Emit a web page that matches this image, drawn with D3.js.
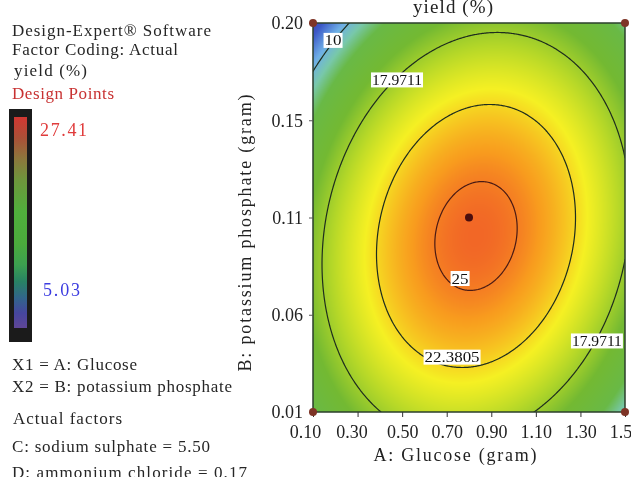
<!DOCTYPE html>
<html><head><meta charset="utf-8">
<script src="https://cdn.jsdelivr.net/npm/d3@7"></script>
<style>
body{margin:0;background:#fff;}
#wrap{position:relative;width:631px;height:477px;overflow:hidden;background:#fff;}
canvas,svg{position:absolute;left:0;top:0;}
text{font-family:"Liberation Serif","Times New Roman",serif;}
</style></head><body>
<div id="wrap"><canvas id="c" width="631" height="477"></canvas><svg id="s" width="631" height="477"></svg></div>
<script>
// ---------------- data ----------------
const xTicks = [0.10, 0.30, 0.50, 0.70, 0.90, 1.10, 1.30, 1.50];
const xTickLabels = ["0.10", "0.30", "0.50", "0.70", "0.90", "1.10", "1.30", "1.50"];
const yTicks = [0.01, 0.0575, 0.105, 0.1525, 0.20];
const yTickLabels = ["0.01", "0.06", "0.11", "0.15", "0.20"];
const contourLevels = [10, 17.9711, 22.3805, 25];
const contourLabelText = ["10", "17.9711", "22.3805", "25"];
// fitted quadratic model in actual factors: Intercept, A, B, AB, A^2, B^2
const modelTerms = ["Intercept", "A", "B", "AB", "A^2", "B^2"];
const modelCoefs = [9.661, 23.889, 123.98, 31.186, -16.166, -781.05];
const designA = [0.10, 1.50, 0.10, 1.50, 0.80];
const designB = [0.01, 0.01, 0.20, 0.20, 0.105];
const yieldRange = [5.03, 27.41];
const colorFractions = [0.00, 0.10, 0.20, 0.28, 0.36, 0.50, 0.62, 0.74, 0.86, 0.93, 1.00];
const colorValues = ["#4b2d96", "#3c5ac8", "#6eafe6", "#78c8aa", "#69b946", "#73b932",
                     "#b4d728", "#f5f023", "#f89b1e", "#f05a28", "#e1322d"];
const legendFractions = [0, 0.1, 0.2, 0.3, 0.45, 0.6, 0.7, 0.78, 0.86, 0.93, 1];
const legendColors = ["#d23732", "#aa5037", "#8c783c", "#6e963c", "#50af3c", "#4baa3c",
                      "#3ca050", "#288264", "#32648c", "#46469f", "#5f4696"];
const infoLines = ["Design-Expert\u00AE Software", "Factor Coding: Actual", "yield (%)"];
const factorLines = ["X1 = A: Glucose", "X2 = B: potassium phosphate"];
const actualLines = ["Actual factors", "C: sodium sulphate = 5.50", "D: ammonium chloride = 0.17"];

// ---------------- layout ----------------
const W = 631, H = 477;
const plot = {l: 313, r: 625, t: 23, b: 412};
const x = d3.scaleLinear().domain([0.10, 1.50]).range([plot.l, plot.r]);
const y = d3.scaleLinear().domain([0.01, 0.20]).range([plot.b, plot.t]);
function model(A, B) {
  const c = modelCoefs;
  return c[0] + c[1]*A + c[2]*B + c[3]*A*B + c[4]*A*A + c[5]*B*B;
}
const vmin = yieldRange[0], vmax = yieldRange[1];
const color = d3.scaleLinear()
  .domain(colorFractions.map(f => vmin + f*(vmax - vmin)))
  .range(colorValues).interpolate(d3.interpolateRgb).clamp(true);

// ---------------- heat map on canvas ----------------
const ctx = document.getElementById("c").getContext("2d");
const pw = plot.r - plot.l, ph = plot.b - plot.t;
const img = ctx.createImageData(pw, ph);
for (let j = 0; j < ph; j++) {
  const B = y.invert(plot.t + j + 0.5);
  for (let i = 0; i < pw; i++) {
    const A = x.invert(plot.l + i + 0.5);
    const c = d3.rgb(color(model(A, B)));
    const k = 4*(j*pw + i);
    img.data[k] = c.r; img.data[k+1] = c.g; img.data[k+2] = c.b; img.data[k+3] = 255;
  }
}
ctx.putImageData(img, plot.l, plot.t);

// ---------------- svg ----------------
const svg = d3.select("#s");
const defs = svg.append("defs");
defs.append("clipPath").attr("id", "pc").append("rect")
  .attr("x", plot.l).attr("y", plot.t).attr("width", pw).attr("height", ph);

// contours
const nx = 281, ny = 381;
const dA = 1.4/(nx - 1), dB = 0.19/(ny - 1);
const grid = new Float64Array(nx*ny);
for (let j = 0; j < ny; j++) for (let i = 0; i < nx; i++)
  grid[j*nx + i] = model(0.10 + i*dA, 0.20 - j*dB);
const contours = d3.contours().size([nx, ny]).thresholds(contourLevels)(grid);
const proj = d3.geoTransform({point: function(gx, gy) {
  this.stream.point(x(0.10 + (gx - 0.5)*dA), y(0.20 - (gy - 0.5)*dB));
}});
const path = d3.geoPath(proj);
svg.append("g").attr("clip-path", "url(#pc)")
  .selectAll("path").data(contours).join("path")
  .attr("d", path).attr("fill", "none")
  .attr("stroke", (d, i) => i === 3 ? "#4a1a14" : "#1e2d1e").attr("stroke-width", 1.2);

// contour labels (placed in data coordinates along each line)
const labelPlacement = [
  {t: 0, A: 0.190, B: 0.1915, w: 17},
  {t: 1, A: 0.477, B: 0.1722, w: 50},
  {t: 3, A: 0.760, B: 0.0752, w: 17},
  {t: 2, A: 0.724, B: 0.0368, w: 55},
  {t: 1, A: 1.374, B: 0.0447, w: 50}
];
const lg = svg.append("g");
labelPlacement.forEach(p => {
  const cx = x(p.A), cy = y(p.B);
  lg.append("rect").attr("x", cx - p.w/2 - 1).attr("y", cy - 7.5).attr("width", p.w + 2).attr("height", 15)
    .attr("fill", "#fff");
  lg.append("text").attr("x", cx).attr("y", cy + 5).attr("text-anchor", "middle")
    .attr("font-size", 15).attr("fill", "#111")
    .attr("textLength", p.w).attr("lengthAdjust", "spacingAndGlyphs")
    .text(contourLabelText[p.t]);
});

// frame
svg.append("rect").attr("x", plot.l).attr("y", plot.t).attr("width", pw).attr("height", ph)
  .attr("fill", "none").attr("stroke", "#2b3f2b").attr("stroke-width", 1.5);

// axes
const xAxis = svg.append("g").attr("transform", `translate(0,${plot.b})`)
  .call(d3.axisBottom(x).tickValues(xTicks).tickFormat((d, i) => xTickLabels[i]).tickSize(5).tickPadding(8));
xAxis.select(".domain").remove();
xAxis.selectAll("line").attr("stroke", "#333");
xAxis.selectAll("text").attr("font-size", 18).attr("fill", "#222")
  .attr("font-family", '"Liberation Serif", serif')
  .attr("dx", (d, i) => i === 0 ? -8 : (i === 1 ? -6 : 0));
const yAxis = svg.append("g").attr("transform", `translate(${plot.l},0)`)
  .call(d3.axisLeft(y).tickValues(yTicks).tickFormat((d, i) => yTickLabels[i]).tickSize(4).tickPadding(6));
yAxis.select(".domain").remove();
yAxis.selectAll("line").attr("stroke", "#555");
yAxis.selectAll("text").attr("font-size", 18).attr("fill", "#222")
  .attr("font-family", '"Liberation Serif", serif');

// design points
svg.append("g").selectAll("circle").data(designA).join("circle")
  .attr("cx", (d) => x(d)).attr("cy", (d, i) => y(designB[i])).attr("r", 4)
  .attr("fill", (d, i) => i === 4 ? "#4a0e0e" : "#7e3426");

// titles
svg.append("text").attr("x", 453).attr("y", 13).attr("text-anchor", "middle")
  .attr("font-size", 19).attr("fill", "#222").attr("textLength", 80).text("yield (%)");
svg.append("text").attr("x", 455).attr("y", 461).attr("text-anchor", "middle")
  .attr("font-size", 18).attr("fill", "#222").attr("textLength", 163).text("A: Glucose (gram)");
svg.append("text").attr("transform", "translate(251,233) rotate(-90)").attr("text-anchor", "middle")
  .attr("font-size", 18).attr("fill", "#222").attr("textLength", 277).text("B: potassium phosphate (gram)");

// left info panel
const infoY = [36, 55, 76], infoX = [12, 12, 14], infoW = [199, 166, 73];
infoLines.forEach((t, i) => svg.append("text").attr("x", infoX[i]).attr("y", infoY[i])
  .attr("font-size", 17).attr("fill", "#262626").attr("textLength", infoW[i]).text(t));
svg.append("text").attr("x", 12).attr("y", 99).attr("font-size", 17).attr("fill", "#c83232")
  .attr("textLength", 102).text("Design Points");

// colour legend
const grad = defs.append("linearGradient").attr("id", "lg").attr("x1", 0).attr("y1", 0).attr("x2", 0).attr("y2", 1);
legendFractions.forEach((f, i) => grad.append("stop").attr("offset", f).attr("stop-color", legendColors[i]));
svg.append("rect").attr("x", 9).attr("y", 109).attr("width", 23).attr("height", 233).attr("fill", "#1b1b1b");
svg.append("rect").attr("x", 14).attr("y", 117).attr("width", 13).attr("height", 211).attr("fill", "url(#lg)");
svg.append("text").attr("x", 40).attr("y", 136).attr("font-size", 18).attr("fill", "#e03c3c")
  .attr("textLength", 47).text(yieldRange[1].toFixed(2));
svg.append("text").attr("x", 43).attr("y", 296).attr("font-size", 18).attr("fill", "#3c3ce0")
  .attr("textLength", 37).text(yieldRange[0].toFixed(2));

// factor lines
const fY = [370, 392], fW = [125, 220];
factorLines.forEach((t, i) => svg.append("text").attr("x", 12).attr("y", fY[i])
  .attr("font-size", 17).attr("fill", "#262626").attr("textLength", fW[i]).text(t));
const aY = [424, 452, 478], aX = [13, 12, 12], aW = [109, 198, 235];
actualLines.forEach((t, i) => svg.append("text").attr("x", aX[i]).attr("y", aY[i])
  .attr("font-size", 17).attr("fill", "#262626").attr("textLength", aW[i]).text(t));
</script>
</body></html>
